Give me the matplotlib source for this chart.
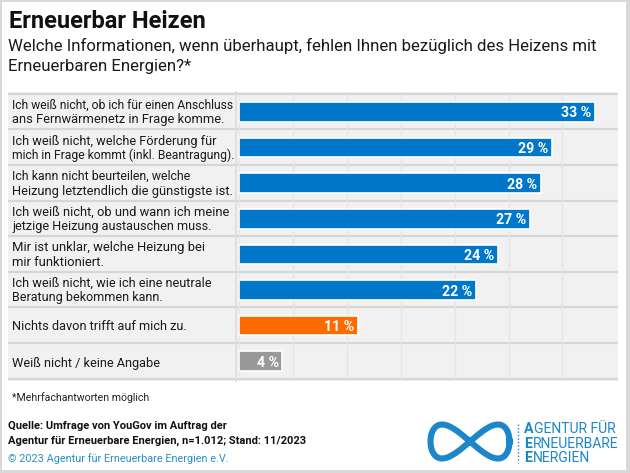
import numpy as np
import matplotlib
matplotlib.use("Agg")
import matplotlib.pyplot as plt
from matplotlib.patches import Rectangle

plt.rcParams['font.family'] = ['Roboto', 'DejaVu Sans']

categories = [
    "Ich weiß nicht, ob ich für einen Anschluss\nans Fernwärmenetz in Frage komme.",
    "Ich weiß nicht, welche Förderung für\nmich in Frage kommt (inkl. Beantragung).",
    "Ich kann nicht beurteilen, welche\nHeizung letztendlich die günstigste ist.",
    "Ich weiß nicht, ob und wann ich meine\njetzige Heizung austauschen muss.",
    "Mir ist unklar, welche Heizung bei\nmir funktioniert.",
    "Ich weiß nicht, wie ich eine neutrale\nBeratung bekommen kann.",
    "Nichts davon trifft auf mich zu.",
    "Weiß nicht / keine Angabe",
]
values = [33, 29, 28, 27, 24, 22, 11, 4]
bar_colors = ["#0077c8"] * 6 + ["#ff6a00", "#999999"]
xticks = [0, 5, 10, 15, 20, 25, 30]
# font size of each label line, tuned to the reference's line widths
line_sizes = [(8.7, 9.3), (9.2, 8.7), (8.9, 9.3), (9.3, 9.1), (9.4, 9.4), (9.2, 9.0), (9.2,), (9.2,)]

W, H = 630, 473
DPI = 100
fig = plt.figure(figsize=(W / DPI, H / DPI), dpi=DPI, facecolor="white")

def fx(x): return x / W
def fy(y): return 1 - y / H

bg = fig.add_axes([0, 0, 1, 1], zorder=0)
bg.set_xlim(0, W); bg.set_ylim(H, 0); bg.axis("off")
FR = "#d9d9d9"
for r in [(0, 0, W, 2), (0, 470, W, 3), (0, 0, 2, H), (626, 0, 4, H)]:
    bg.add_patch(Rectangle((r[0], r[1]), r[2], r[3], fc=FR, ec="none"))
bg.add_patch(Rectangle((8, 92), 610, 289, fc="#f1f1f1", ec="none"))

left, right, top, bottom = 239, 618, 94.2, 379.0
ax = fig.add_axes([fx(left), fy(bottom), (right - left) / W, (bottom - top) / H], zorder=2)
ax.patch.set_alpha(0)
ax.set_xlim(0, (right - left) / 10.78)
ax.set_ylim(len(values) - 0.5, -0.5)
for s in ax.spines.values():
    s.set_visible(False)
ax.set_xticks(xticks); ax.set_yticks([])
ax.tick_params(length=0, labelbottom=False)
ax.grid(axis="x", color="#e6e6e6", lw=1.0, zorder=0)
ax.set_axisbelow(True)
y = np.arange(len(values))
ax.barh(y, values, height=0.545, color=bar_colors, edgecolor="white", linewidth=1.2, zorder=3)
for yi, v in zip(y, values):
    ax.text(v - 0.32, yi, f"{v} %", ha="right", va="center_baseline", color="white",
            fontsize=10.2, fontweight="bold", zorder=4)

seps = np.arange(len(values) + 1) - 0.5
for s in seps:
    py = top + (s + 0.5) * (bottom - top) / len(values)
    bg.plot([8, 618], [py - 0.5, py - 0.5], color="#d6d6d6", lw=1.6, solid_capstyle="butt")
bg.plot([236, 236], [92, 381], color="#dddddd", lw=1.2)

for yi, c, sizes in zip(y, categories, line_sizes):
    py = top + (yi + 0.5) * (bottom - top) / len(values) + 0.7
    lines = c.split("\n")
    if len(lines) == 2:
        bg.text(12, py - 7.2, lines[0], ha="left", va="center", fontsize=sizes[0], color="#1a1a1a")
        bg.text(12, py + 7.2, lines[1], ha="left", va="center", fontsize=sizes[1], color="#1a1a1a")
    else:
        bg.text(12, py + (1.5 if yi == 7 else 0), lines[0], ha="left", va="center",
                fontsize=sizes[0], color="#1a1a1a")

bg.text(9, 21, "Erneuerbar Heizen", fontsize=17, fontweight="bold", va="center", color="#111111")
bg.text(8, 46, "Welche Informationen, wenn überhaupt, fehlen Ihnen bezüglich des Heizens mit",
        fontsize=12.1, va="center", color="#1a1a1a")
bg.text(8, 67, "Erneuerbaren Energien?*", fontsize=12.1, va="center", color="#1a1a1a")

bg.text(12, 398, "*Mehrfachantworten möglich", fontsize=7.6, va="center", color="#222222")
bg.text(8, 426, "Quelle: Umfrage von YouGov im Auftrag der", fontsize=8.0, fontweight="bold", va="center", color="#111111")
bg.text(8, 441, "Agentur für Erneuerbare Energien, n=1.012; Stand: 11/2023", fontsize=8.0, fontweight="bold", va="center", color="#111111")
bg.text(8, 459, "© 2023 Agentur für Erneuerbare Energien e.V.", fontsize=7.8, va="center", color="#2a8fc4")

t = np.linspace(0, 2 * np.pi, 400)
cx, cy, a, b = 470, 441.5, 39.5, 34
lx = cx + a * np.cos(t)
ly = cy + b * np.sin(2 * t) / 2
LOGO = "#1b87c9"
bg.plot(lx, ly, color=LOGO, lw=4.4, zorder=3)
bg.plot([517.5, 517.5], [424, 463], color=LOGO, lw=1.0, ls=(0, (1, 1.5)))
for py, first, rest in [(429, "A", "GENTUR FÜR"), (443.5, "E", "RNEUERBARE"), (458, "E", "NERGIEN")]:
    tx = bg.text(524, py, first, fontsize=10.2, fontweight="bold", va="center", color=LOGO)
    fig.canvas.draw()
    ext = tx.get_window_extent()
    bg.text(ext.x1 + 1.0, py, rest, fontsize=10.0, va="center", color=LOGO)

fig.savefig("out.png", dpi=DPI)
